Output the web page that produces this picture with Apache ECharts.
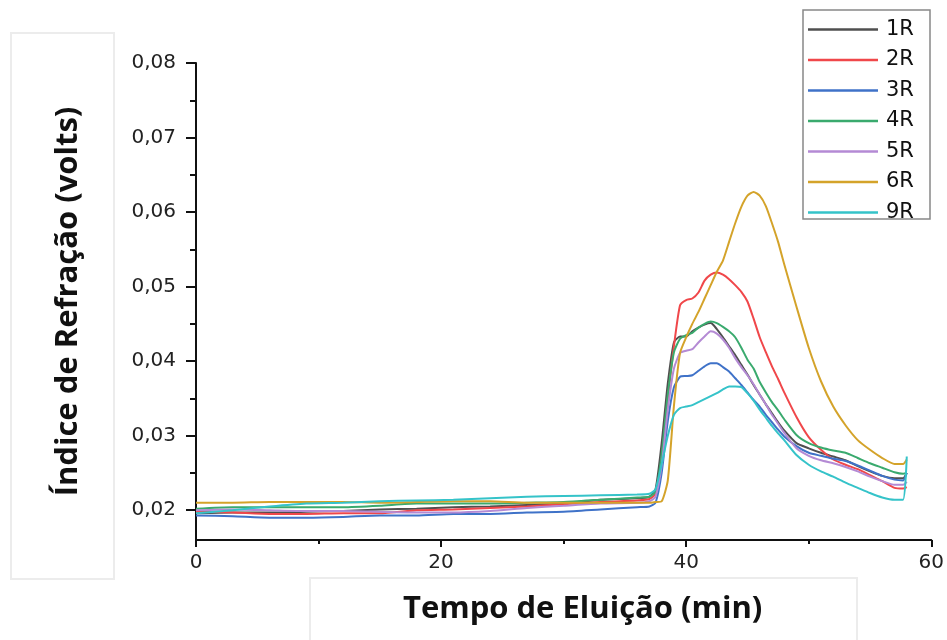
<!DOCTYPE html>
<html>
<head>
<meta charset="utf-8">
<script src="https://cdn.jsdelivr.net/npm/echarts@6/dist/echarts.min.js"></script>
<style>html,body{margin:0;padding:0;background:#fff;}#c{width:947px;height:640px;}</style>
</head>
<body>
<div id="c"></div>
<script>
// Elution time (min)
var times = [0, 3, 6, 9, 12, 15, 18, 21, 24, 27, 30, 33, 36, 37, 37.5, 38, 38.5, 39, 39.5, 40, 40.5, 41, 41.5, 42, 42.5, 43, 43.5, 44, 44.5, 45, 45.5, 46, 46.5, 47, 47.5, 48, 49, 50, 51, 52, 53, 54, 55, 56, 57, 57.7, 58];

var seriesNames = ['1R', '2R', '3R', '4R', '5R', '6R', '9R'];

var r1 = [0.0196, 0.0197, 0.0197, 0.0198, 0.0199, 0.0201, 0.0202, 0.0204, 0.0205, 0.0207, 0.0209, 0.0214, 0.0216, 0.0218, 0.0228, 0.0290, 0.0370, 0.0425, 0.0433, 0.0433, 0.0440, 0.0445, 0.0449, 0.0451, 0.0443, 0.0432, 0.0420, 0.0408, 0.0395, 0.0382, 0.0368, 0.0355, 0.0342, 0.0330, 0.0318, 0.0307, 0.0290, 0.0283, 0.0277, 0.0272, 0.0267, 0.0259, 0.0252, 0.0246, 0.0243, 0.0243, 0.0250];
var r2 = [0.0198, 0.0197, 0.0195, 0.0195, 0.0196, 0.0196, 0.0200, 0.0201, 0.0203, 0.0205, 0.0208, 0.0211, 0.0213, 0.0215, 0.0222, 0.0270, 0.0350, 0.0420, 0.0475, 0.0482, 0.0484, 0.0492, 0.0508, 0.0516, 0.0519, 0.0516, 0.0510, 0.0502, 0.0493, 0.0480, 0.0457, 0.0432, 0.0412, 0.0393, 0.0376, 0.0358, 0.0325, 0.0298, 0.0281, 0.0268, 0.0261, 0.0255, 0.0247, 0.0239, 0.0230, 0.0229, 0.0231];
var r3 = [0.0193, 0.0192, 0.0190, 0.0190, 0.0191, 0.0193, 0.0193, 0.0195, 0.0195, 0.0197, 0.0198, 0.0201, 0.0204, 0.0205, 0.0210, 0.0250, 0.0320, 0.0365, 0.0379, 0.0380, 0.0381, 0.0387, 0.0393, 0.0397, 0.0397, 0.0392, 0.0386, 0.0377, 0.0368, 0.0358, 0.0348, 0.0339, 0.0328, 0.0318, 0.0308, 0.0299, 0.0286, 0.0277, 0.0273, 0.0269, 0.0266, 0.0260, 0.0253, 0.0246, 0.0241, 0.0240, 0.0250];
var r4 = [0.0202, 0.0204, 0.0204, 0.0204, 0.0204, 0.0206, 0.0209, 0.0209, 0.0209, 0.0210, 0.0211, 0.0214, 0.0217, 0.0218, 0.0225, 0.0275, 0.0355, 0.0412, 0.0430, 0.0435, 0.0438, 0.0445, 0.0450, 0.0453, 0.0451, 0.0446, 0.0440, 0.0432, 0.0418, 0.0402, 0.0390, 0.0372, 0.0358, 0.0345, 0.0334, 0.0322, 0.0301, 0.0290, 0.0284, 0.0280, 0.0277, 0.0270, 0.0263, 0.0257, 0.0251, 0.0249, 0.0250];
var r5 = [0.0200, 0.0201, 0.0200, 0.0199, 0.0199, 0.0198, 0.0197, 0.0197, 0.0199, 0.0203, 0.0206, 0.0209, 0.0210, 0.0212, 0.0218, 0.0260, 0.0335, 0.0390, 0.0411, 0.0414, 0.0416, 0.0425, 0.0433, 0.0440, 0.0437, 0.0429, 0.0418, 0.0404, 0.0392, 0.0381, 0.0369, 0.0355, 0.0342, 0.0328, 0.0316, 0.0304, 0.0283, 0.0273, 0.0267, 0.0263, 0.0258, 0.0252, 0.0245, 0.0239, 0.0234, 0.0234, 0.0238];
var r6 = [0.0210, 0.0210, 0.0211, 0.0211, 0.0211, 0.0210, 0.0211, 0.0212, 0.0212, 0.0210, 0.0210, 0.0210, 0.0210, 0.0210, 0.0211, 0.0212, 0.0240, 0.0340, 0.0411, 0.0432, 0.0450, 0.0466, 0.0484, 0.0502, 0.0520, 0.0535, 0.0560, 0.0585, 0.0607, 0.0622, 0.0627, 0.0622, 0.0608, 0.0585, 0.0560, 0.0530, 0.0473, 0.0418, 0.0373, 0.0339, 0.0314, 0.0294, 0.0281, 0.0270, 0.0262, 0.0262, 0.0268];
var r9 = [0.0196, 0.0200, 0.0205, 0.0209, 0.0210, 0.0212, 0.0213, 0.0214, 0.0216, 0.0218, 0.0219, 0.0220, 0.0221, 0.0222, 0.0228, 0.0262, 0.0300, 0.0328, 0.0337, 0.0339, 0.0341, 0.0345, 0.0349, 0.0353, 0.0357, 0.0362, 0.0366, 0.0366, 0.0365, 0.0357, 0.0347, 0.0335, 0.0324, 0.0313, 0.0303, 0.0294, 0.0274, 0.0261, 0.0252, 0.0245, 0.0237, 0.0230, 0.0223, 0.0217, 0.0214, 0.0214, 0.0272];

var seriesValues = [r1, r2, r3, r4, r5, r6, r9];
var colors = ['#4f4f4f', '#f0474a', '#3f72c8', '#3aaa6e', '#b48ad4', '#d4a32a', '#35c3c9'];

var xTicks = [0, 20, 40, 60];
var yMajor = [0.02, 0.03, 0.04, 0.05, 0.06, 0.07, 0.08];
var yMinor = [0.025, 0.035, 0.045, 0.055, 0.065, 0.075];

var chart = echarts.init(document.getElementById('c'), null, {renderer: 'canvas'});

var series = seriesNames.map(function (name, i) {
  return {
    name: name,
    type: 'line',
    xAxisIndex: 0,
    yAxisIndex: 0,
    showSymbol: false,
    symbol: 'none',
    smooth: 0.2,
    color: colors[i],
    lineStyle: {width: 2, color: colors[i]},
    data: times.map(function (t, j) { return [t, seriesValues[i][j]]; }),
    z: 3
  };
});

var option = {
  animation: false,
  backgroundColor: '#ffffff',
  grid: {left: 196, right: 15, top: 63, bottom: 100, containLabel: false},
  legend: {
    data: seriesNames,
    orient: 'vertical',
    left: 803,
    top: 9,
    icon: 'rect',
    itemWidth: 70,
    itemHeight: 2.5,
    itemGap: 9.5,
    padding: [10, 5, 0, 5],
    textStyle: {fontFamily: 'DejaVu Sans', fontSize: 21, color: '#111', padding: [0, 0, 0, 3]}
  },
  xAxis: [{
    type: 'value',
    min: 0,
    max: 60,
    interval: 20,
    name: 'Tempo de Eluição (min)',
    nameLocation: 'middle',
    nameGap: 54,
    nameTextStyle: {fontFamily: 'Open Sans', fontWeight: 'bold', fontSize: 31, color: '#111', padding: [0, 0, 0, 38]},
    axisLine: {show: true, onZero: false, lineStyle: {color: '#111', width: 2}},
    axisTick: {show: true, length: 7, lineStyle: {color: '#111', width: 2}},
    minorTick: {show: true, splitNumber: 2, length: 4, lineStyle: {color: '#111', width: 2}},
    splitLine: {show: false},
    axisLabel: {fontFamily: 'DejaVu Sans', fontSize: 20, color: '#222', margin: 13}
  }],
  yAxis: [{
    type: 'value',
    min: 0.016,
    max: 0.08,
    position: 'left',
    name: 'Índice de Refração (volts)',
    nameLocation: 'middle',
    nameGap: 112,
    nameRotate: 90,
    nameTextStyle: {fontFamily: 'Open Sans', fontWeight: 'bold', fontSize: 31, color: '#111'},
    axisLine: {show: true, onZero: false, lineStyle: {color: '#111', width: 2}},
    axisTick: {show: true, length: 10, customValues: yMajor, lineStyle: {color: '#111', width: 2}},
    splitLine: {show: false},
    axisLabel: {
      customValues: yMajor,
      fontFamily: 'DejaVu Sans', fontSize: 20, color: '#222', margin: 20,
      formatter: function (v) { return v.toFixed(2).replace('.', ','); }
    }
  }, {
    type: 'value',
    min: 0.016,
    max: 0.08,
    position: 'left',
    axisLine: {show: false},
    axisTick: {show: true, length: 6, customValues: yMinor, lineStyle: {color: '#111', width: 2}},
    splitLine: {show: false},
    axisLabel: {show: false}
  }],
  graphic: [
    {type: 'rect', z: -10, shape: {x: 11, y: 33, width: 103, height: 546}, style: {fill: '#fff', stroke: '#ececec', lineWidth: 2}},
    {type: 'rect', z: -10, shape: {x: 310, y: 578, width: 547, height: 70}, style: {fill: '#fff', stroke: '#ececec', lineWidth: 2}},
    {type: 'rect', z: 100, silent: true, shape: {x: 803, y: 10, width: 127, height: 209}, style: {fill: 'none', stroke: '#888888', lineWidth: 1.5}}
  ],
  series: series
};
chart.setOption(option);
</script>
</body>
</html>
